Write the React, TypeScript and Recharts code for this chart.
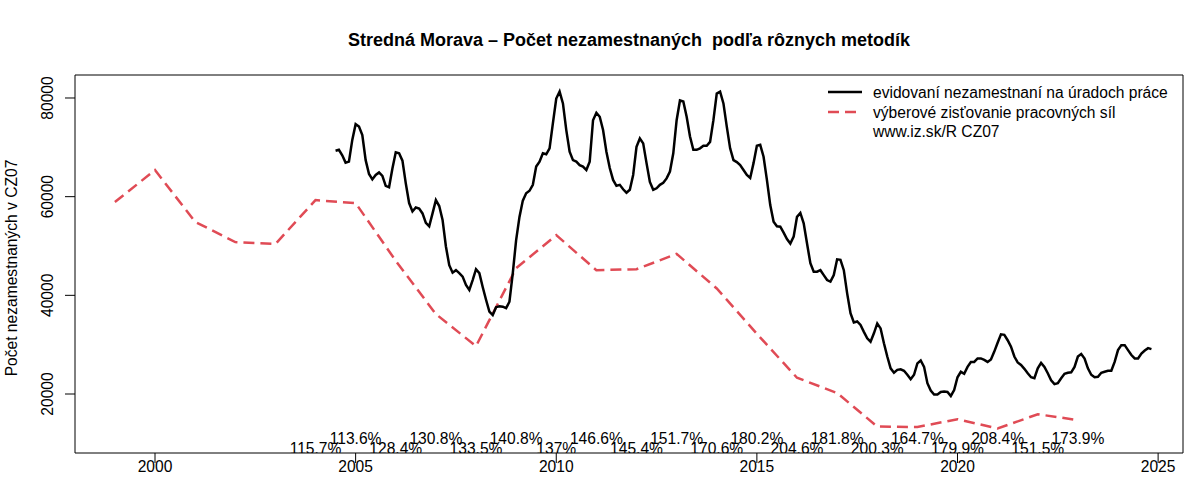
import { ComposedChart, Line, Scatter, XAxis, YAxis, ReferenceArea } from "recharts";

// evidovaní nezamestnaní – mesačne od júla 2004
const registeredStart = 2004.5;
const registered = [
  69300, 69500, 68400, 66900, 67100, 71500, 74700, 74200, 72500, 67400,
  64600, 63500, 64400, 64900, 64200, 62200, 61900, 65700, 69000, 68800,
  67300, 62700, 58700, 57000, 57800, 57600, 56600, 54700, 54000, 56600,
  59300, 58100, 55300, 49900, 46100, 44600, 45100, 44500, 43800, 42100,
  41100, 43100, 45300,
  44500, 41700, 39100, 36700, 36000, 37600, 37800, 37700, 37400, 38700,
  44500, 51200, 55900, 59200, 60700, 61200, 62400, 66100, 67100, 68800,
  68600, 69800, 74900, 79900, 81300, 78900, 73500, 69100, 67400, 67100,
  66400, 66100, 65400, 67100, 75500, 77000, 76200, 73500, 69100, 65800,
  63400, 62200, 62400, 61500, 60800, 61400, 64400, 70100, 71800, 70800,
  66800, 63000, 61400, 61700, 62400, 62800, 63700, 65100, 68800, 75500,
  79500, 79300, 76200, 72200, 69500, 69500, 69800, 70300, 70300, 71100,
  75500, 80900, 81300, 78900, 74200, 69800, 67400, 67000, 66400, 65400,
  64400, 63800, 66800, 70300,
  70500, 68100, 63400, 58300, 54900, 54000, 53900, 52700, 51400, 50500,
  51900, 55900, 56700, 54600, 50500, 46500, 44800, 44800, 45100, 44100,
  43100, 42800, 44100, 47300, 47200, 45100, 40400, 36400, 34500, 34700,
  34000, 32600, 31300, 30600, 32300, 34300, 33300, 30300, 27600, 25200,
  24300, 24900,
  25000, 24700, 23900, 23000, 23900, 26200, 26800, 25500, 22200, 20700,
  19900, 19900, 20400, 20500, 20400, 19600, 20800, 23400, 24500, 24100,
  25500, 26500, 26500, 27200, 27200, 26900, 26500, 27000, 28600, 30400,
  32100, 32000, 30900, 29600, 27600, 26400, 25900, 25100, 24200, 23400,
  23200, 25200, 26300,
  25500, 24200, 22800, 22000, 22200, 23200, 24100, 24300, 24400, 25500,
  27600, 28100, 27200, 25200, 23900, 23400, 23500, 24300, 24500, 24700,
  24700, 26500, 28900, 29900, 29900, 28900, 27900, 27200, 27200, 28200,
  28800, 29300, 29100,
];

// výberové zisťovanie pracovných síl – ročne
const surveyYears = [
  1999, 2000, 2001, 2002, 2003, 2004, 2005, 2006, 2007, 2008, 2009, 2010, 2011,
  2012, 2013, 2014, 2015, 2016, 2017, 2018, 2019, 2020, 2021, 2022, 2023,
];
const survey = [
  58900, 65400, 54900, 50800, 50400, 59300, 58700, 47000, 36200, 29700, 45500, 52200, 45100,
  45300, 48400, 41400, 32200, 23300, 20200, 13400, 13300, 14900, 13000, 15900, 14700,
];

const ratioYears = [
  2004, 2005, 2006, 2007, 2008, 2009, 2010, 2011, 2012, 2013,
  2014, 2015, 2016, 2017, 2018, 2019, 2020, 2021, 2022, 2023,
];
const ratioLabels = [
  "115.7%", "113.6%", "128.4%", "130.8%", "133.5%", "140.8%", "137%", "146.6%", "145.4%", "151.7%",
  "170.6%", "180.2%", "204.6%", "181.8%", "200.3%", "164.7%", "179.9%", "208.4%", "151.5%", "173.9%",
];
const ratioRowLevels = [9000, 11000];

const xTicks = [2000, 2005, 2010, 2015, 2020, 2025];
const yTicks = [20000, 40000, 60000, 80000];

const X_MIN = 1998.006;
const X_MAX = 2025.62;
const Y_MIN = 8041;
const Y_MAX = 84662;

const RED = "#E04B55";
const DASH = "11 6";
const FONT = "'Liberation Sans', Arial, sans-serif";
const FS = 15.6;

const registeredData = registered.map((v, i) => ({ x: registeredStart + i / 12, y: v }));
const surveyData = surveyYears.map((yr, i) => ({ x: yr, y: survey[i] }));
const ratioData = ratioYears.map((yr, i) => ({ x: yr, y: ratioRowLevels[i % 2], label: ratioLabels[i] }));

const XTick = ({ x, y, payload }: any) => (
  <text x={x} y={y + 1} textAnchor="middle" dominantBaseline="central" fontSize={FS} fontFamily={FONT} fill="#000">
    {payload.value}
  </text>
);

const YTick = ({ x, y, payload }: any) => (
  <text
    x={x - 15}
    y={y}
    textAnchor="middle"
    dominantBaseline="central"
    fontSize={FS}
    fontFamily={FONT}
    fill="#000"
    transform={`rotate(-90, ${x - 15}, ${y})`}
  >
    {payload.value}
  </text>
);

const RatioLabel = ({ cx, cy, payload }: any) => (
  <text x={cx} y={cy} textAnchor="middle" dominantBaseline="central" fontSize={FS} fontFamily={FONT} fill="#000">
    {payload.label}
  </text>
);

export default function App() {
  return (
    <div style={{ position: "absolute", left: 0, top: 0, width: 1200, height: 500, background: "#fff" }}>
      <ComposedChart width={1200} height={500} margin={{ top: 75, right: 17, bottom: 0, left: 0 }}>
        <text
          x={629}
          y={46}
          textAnchor="middle"
          fontSize={18}
          fontWeight="bold"
          fontFamily={FONT}
          fill="#000"
          style={{ whiteSpace: "pre" }}
        >
          {"Stredná Morava – Počet nezamestnaných  podľa rôznych metodík"}
        </text>
        <text
          x={17}
          y={268}
          textAnchor="middle"
          fontSize={FS}
          fontFamily={FONT}
          fill="#000"
          transform="rotate(-90, 17, 268)"
        >
          Počet nezamestnaných v CZ07
        </text>
        <XAxis
          dataKey="x"
          type="number"
          domain={[X_MIN, X_MAX]}
          ticks={xTicks}
          allowDataOverflow
          height={47}
          axisLine={false}
          tickSize={10}
          tickLine={{ stroke: "#000" }}
          tick={<XTick />}
        />
        <YAxis
          dataKey="y"
          type="number"
          domain={[Y_MIN, Y_MAX]}
          ticks={yTicks}
          allowDataOverflow
          width={75}
          axisLine={false}
          tickSize={10}
          tickLine={{ stroke: "#000" }}
          tick={<YTick />}
        />
        <ReferenceArea x1={X_MIN} x2={X_MAX} y1={Y_MIN} y2={Y_MAX} fill="none" stroke="#000" strokeWidth={1} />
        <Line
          data={surveyData}
          dataKey="y"
          type="linear"
          stroke={RED}
          strokeWidth={2.5}
          strokeDasharray={DASH}
          dot={false}
          isAnimationActive={false}
        />
        <Line
          data={registeredData}
          dataKey="y"
          type="linear"
          stroke="#000"
          strokeWidth={2.5}
          dot={false}
          isAnimationActive={false}
        />
        <Scatter data={ratioData} dataKey="y" shape={<RatioLabel />} isAnimationActive={false} />
        <g>
          <line x1={828} x2={862} y1={92} y2={92} stroke="#000" strokeWidth={2.5} />
          <line x1={828} x2={862} y1={112} y2={112} stroke={RED} strokeWidth={2.5} strokeDasharray={DASH} />
          <g fontSize={FS} fontFamily={FONT} fill="#000">
            <text x={873} y={92} dominantBaseline="central">evidovaní nezamestnaní na úradoch práce</text>
            <text x={873} y={112} dominantBaseline="central">výberové zisťovanie pracovných síl</text>
            <text x={873} y={131} dominantBaseline="central">www.iz.sk/R CZ07</text>
          </g>
        </g>
      </ComposedChart>
    </div>
  );
}
